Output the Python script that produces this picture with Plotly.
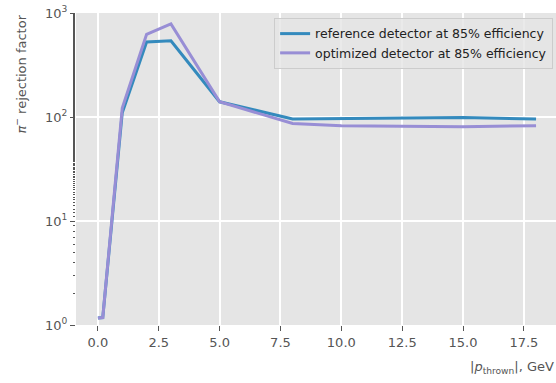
import plotly.graph_objects as go

momentum = [0, 0.2, 1, 2, 3, 5, 8, 10, 15, 18]
reference = [1.17, 1.18, 110, 527, 540, 140, 95.6, 97, 98.9, 95.7]
optimized = [1.17, 1.18, 122, 624, 784, 140, 86.7, 82.6, 80.5, 82.6]
names = ["reference detector at 85% efficiency", "optimized detector at 85% efficiency"]
colors = ["#348ABD", "#988ED5"]
ytick_vals = [1, 10, 100, 1000]
ytick_text = ["10<sup>0</sup>", "10<sup>1</sup>", "10<sup>2</sup>", "10<sup>3</sup>"]

fig = go.Figure()
for ys, name, c in zip([reference, optimized], names, colors):
    fig.add_trace(go.Scatter(x=momentum, y=ys, mode="lines", name=name,
                             line=dict(color=c, width=3)))

axis_common = dict(showline=False, zeroline=False, gridcolor="white", gridwidth=1.5,
                   ticks="outside", ticklen=5, tickwidth=1, tickcolor="#555555",
                   tickfont=dict(size=13, color="#555555"))

fig.update_layout(
    width=556, height=383,
    margin=dict(l=76, r=0, t=13, b=58),
    paper_bgcolor="white", plot_bgcolor="#E5E5E5",
    font=dict(family="DejaVu Sans", color="#555555"),
    showlegend=True,
    legend=dict(x=0.994, y=0.984, xanchor="right", yanchor="top",
                bgcolor="rgba(229,229,229,0.8)", bordercolor="#CCCCCC", borderwidth=1,
                font=dict(size=12.5, color="#222222"), tracegroupgap=0, itemwidth=30),
    xaxis=dict(range=[-0.9, 18.82], tick0=0, dtick=2.5, tickformat=".1f", **axis_common),
    yaxis=dict(type="log", range=[0, 3], tickvals=ytick_vals, ticktext=ytick_text,
               minor=dict(ticks="outside", ticklen=2.5, tickcolor="#555555", showgrid=False),
               **axis_common),
)
fig.add_annotation(text="|<i>p</i><sub>thrown</sub>|, GeV", xref="paper", yref="paper",
                   x=1, y=0, xanchor="right", yanchor="top", yshift=-32, showarrow=False,
                   font=dict(size=13, color="#555555"))
fig.add_annotation(text="<i>π</i><sup>−</sup> rejection factor", xref="paper", yref="paper",
                   x=(20 - 76) / 480, y=1, xanchor="center", yanchor="top", textangle=-90,
                   showarrow=False, font=dict(size=13, color="#555555"))
fig.write_html("out.html")
